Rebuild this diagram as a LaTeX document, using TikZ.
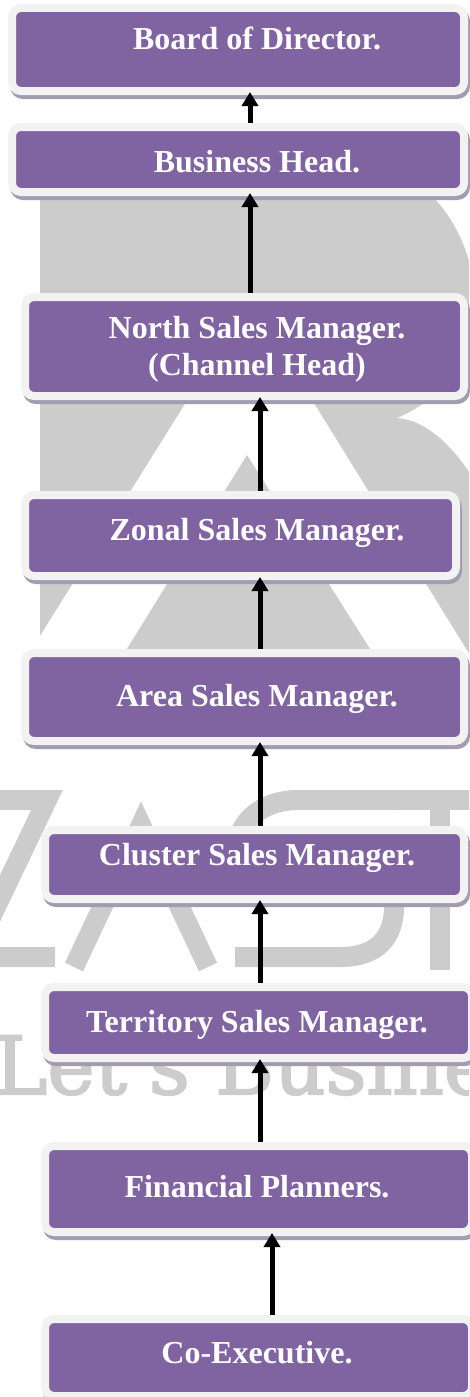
\documentclass[tikz,border=0pt]{standalone}
\usepackage{fontspec}
\setmainfont{Liberation Serif}
\newfontfamily\markfont{DejaVu Serif}[FakeBold=2.5]
\usetikzlibrary{arrows.meta}
\definecolor{boxpurple}{HTML}{8064A2}
\definecolor{boxrim}{HTML}{F2F2F2}
\definecolor{boxshade}{HTML}{A39BAF}
\definecolor{markgray}{HTML}{CCCCCC}
\tikzset{
  rolebox/.style={draw=boxrim, fill=boxpurple, line width=8pt, rounded corners=9pt, inner sep=0pt,
    preaction={draw=boxshade, fill=boxshade, line width=8pt, transform canvas={xshift=2pt,yshift=-4pt}}},
  roletext/.style={text=white, font=\bfseries\fontsize{32}{37}\selectfont, anchor=base, align=center, inner sep=0pt},
  uparrow/.style={-{Triangle[width=16pt,length=14pt]}, line width=5pt, shorten >=-3pt},
  markline/.style={draw=markgray, line width=20pt, line join=miter}
}

\begin{document}
\begin{tikzpicture}[x=1pt,y=-1pt]
\useasboundingbox (0,0) rectangle (469,1397);

% logo in the background
\begin{scope}
\clip (0,0) rectangle (469,1397);
\fill[markgray] (40,149) -- (323,149) .. controls (406,149) and (474,217) .. (474,300)
  .. controls (474,360) and (440,400) .. (397,418)
  .. controls (425,420) and (455,445) .. (480,490) -- (480,660) -- (40,660) -- cycle;
\fill[white] (250,300) -- (25,660) -- (473,660) -- cycle;
\fill[markgray] (247,455) -- (125,652) -- (372,652) -- cycle;
\draw[markline] (-60,800) -- (47,800) -- (-28,957) -- (55,957);
\draw[markline] (74,967) -- (141,825) -- (208,967);
\draw[markline] (398,800) -- (298,800) .. controls (262,800) and (237,822) .. (237,850);
\draw[markline] (394,900) .. controls (396,940) and (375,957) .. (340,957) -- (235,957);
\draw[markline] (397,800) -- (490,800);
\draw[markline] (440,800) -- (440,970);
\node[text=markgray, font=\markfont\fontsize{80}{84}\selectfont, anchor=base west, inner sep=0pt] (slogan) at (-6,1094) {Let's Busine};
\end{scope}

\node[rolebox, minimum width=452pt, minimum height=83pt] (board) at (238,49.5) {};
\node[rolebox, minimum width=452pt, minimum height=65pt] (bizhead) at (238,159.5) {};
\node[rolebox, minimum width=439pt, minimum height=99pt] (north) at (244.5,346.5) {};
\node[rolebox, minimum width=431pt, minimum height=81pt] (zonal) at (240.5,535.5) {};
\node[rolebox, minimum width=439pt, minimum height=88pt] (area) at (244.5,697) {};
\node[rolebox, minimum width=419pt, minimum height=69pt] (cluster) at (254.5,864.5) {};
\node[rolebox, minimum width=427pt, minimum height=71pt] (territory) at (258.5,1022.5) {};
\node[rolebox, minimum width=427pt, minimum height=86pt] (planner) at (258.5,1189) {};
\node[rolebox, minimum width=427pt, minimum height=77pt] (coexec) at (258.5,1357.5) {};

\coordinate (colA) at (250,0);
\coordinate (colB) at (260,0);
\coordinate (colC) at (272,0);
\draw[uparrow] (colA |- bizhead.north) -- (colA |- board.south);
\draw[uparrow] (colA |- north.north) -- (colA |- bizhead.south);
\draw[uparrow] (colB |- zonal.north) -- (colB |- north.south);
\draw[uparrow] (colB |- area.north) -- (colB |- zonal.south);
\draw[uparrow] (colB |- cluster.north) -- (colB |- area.south);
\draw[uparrow] (colB |- territory.north) -- (colB |- cluster.south);
\draw[uparrow] (colB |- planner.north) -- (colB |- territory.south);
\draw[uparrow] (colC |- coexec.north) -- (colC |- planner.south);

\node[roletext] (boardtxt) at (257,50) {Board of Director.};
\node[roletext] (bizheadtxt) at (257,172) {Business Head.};
\node[roletext] (northtxt) at (257,375) {North Sales Manager.\\(Channel Head)};
\node[roletext] (zonaltxt) at (257,540) {Zonal Sales Manager.};
\node[roletext] (areatxt) at (257,706) {Area Sales Manager.};
\node[roletext] (clustertxt) at (257,865) {Cluster Sales Manager.};
\node[roletext] (territorytxt) at (257,1032) {Territory Sales Manager.};
\node[roletext] (plannertxt) at (257,1197) {Financial Planners.};
\node[roletext] (coexectxt) at (257,1363) {Co-Executive.};
\end{tikzpicture}
\end{document}
